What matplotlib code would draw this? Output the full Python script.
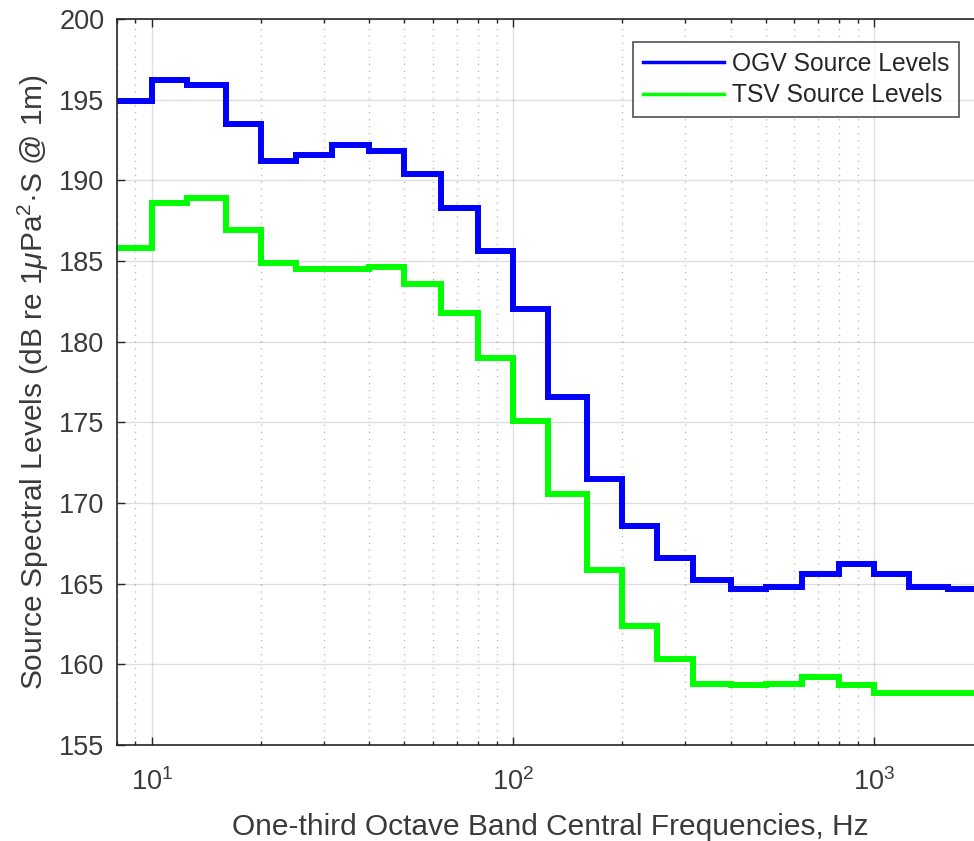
import matplotlib
matplotlib.use("Agg")
import matplotlib.pyplot as plt
from matplotlib.ticker import LogLocator, NullFormatter

plt.rcParams['font.family'] = ['Liberation Sans', 'DejaVu Sans']
plt.rcParams['mathtext.fontset'] = 'custom'
plt.rcParams['mathtext.rm'] = 'Liberation Sans'
plt.rcParams['mathtext.it'] = 'Liberation Sans:italic'
plt.rcParams['mathtext.default'] = 'regular'

# One-third octave band centre frequencies (Hz), last entry = right edge of final band
freqs = [8, 10, 12.5, 16, 20, 25, 31.5, 40, 50, 63, 80, 100, 125, 160, 200,
         250, 315, 400, 500, 630, 800, 1000, 1250, 1600, 2000]
ogv = [194.9, 196.2, 195.9, 193.5, 191.2, 191.6, 192.2, 191.8, 190.4, 188.3,
       185.6, 182.0, 176.55, 171.5, 168.6, 166.6, 165.2, 164.7, 164.8, 165.6,
       166.2, 165.6, 164.8, 164.7]
tsv = [185.8, 188.6, 188.9, 186.9, 184.9, 184.5, 184.5, 184.6, 183.6, 181.8,
       179.0, 175.1, 170.55, 165.85, 162.4, 160.3, 158.8, 158.7, 158.8, 159.2,
       158.7, 158.2, 158.2, 158.2]
labels = ['OGV Source Levels', 'TSV Source Levels']

dark = '#262626'
tickc = '#3a3a3a'
fig = plt.figure(figsize=(9.74, 8.41), dpi=100)
ax = fig.add_axes([117/974, 1 - 745/841, (983-117)/974, (745-19)/841])

ax.step(freqs, ogv + [ogv[-1]], where='post', color=(0, 0, 1), lw=4.3,
        label=labels[0], solid_joinstyle='miter')
ax.step(freqs, tsv + [tsv[-1]], where='post', color=(0, 1, 0), lw=4.3,
        label=labels[1], solid_joinstyle='miter')

ax.set_xscale('log')
ax.set_xlim(8, 2000)
ax.set_ylim(155, 200)
ax.set_yticks(range(155, 201, 5))
ax.xaxis.set_major_locator(LogLocator(base=10, numticks=10))
ax.xaxis.set_minor_locator(LogLocator(base=10, subs=range(2, 10), numticks=20))
ax.xaxis.set_minor_formatter(NullFormatter())

ax.grid(True, which='major', color='#262626', alpha=0.15, lw=1.0, ls='-')
ax.grid(True, which='minor', axis='x', color='#262626', alpha=0.3, lw=1.0, ls=(0, (1, 4)))
ax.set_axisbelow(True)

ax.tick_params(which='both', direction='in', top=True, right=True, colors=dark,
               labelcolor=tickc, labelsize=19.5, width=1.0)
ax.tick_params(which='major', length=6)
ax.tick_params(axis='x', which='major', pad=17)
ax.tick_params(axis='y', which='major', pad=9)
ax.tick_params(which='minor', length=3)
for s in ax.spines.values():
    s.set_color(dark)
    s.set_linewidth(1.2)

ax.set_xlabel('One-third Octave Band Central Frequencies, Hz', fontsize=21.5, color=tickc, labelpad=12)
ax.set_ylabel(r'Source Spectral Levels (dB re 1$\mathit{\mu}$Pa$^2$·S @ 1m)', fontsize=21.5,
              color=tickc, labelpad=6)

leg = fig.legend(loc='upper right', bbox_to_anchor=(959/974, 1 - 42/841), fontsize=17.7,
                 frameon=True, fancybox=False, handlelength=3.3, borderpad=0.4,
                 labelspacing=0.3, handletextpad=0.3, borderaxespad=0)
leg.get_frame().set_edgecolor(dark)
leg.get_frame().set_linewidth(1.2)
for t in leg.get_texts():
    t.set_color(dark)
for l in leg.get_lines():
    l.set_linewidth(2.5)

fig.savefig('out.png', dpi=100)
